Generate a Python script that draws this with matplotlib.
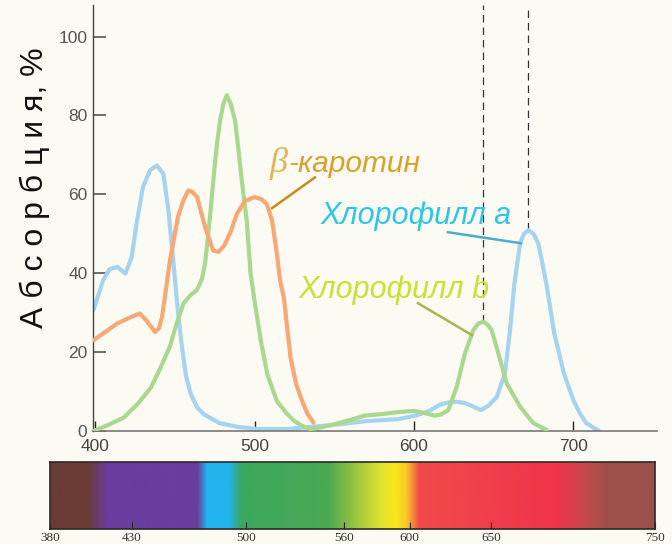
import matplotlib
matplotlib.use("Agg")
import matplotlib.pyplot as plt
import matplotlib.colors as mcolors
import numpy as np

# Chlorophyll a (blue)
chl_a_nm = [399, 405, 409, 414, 419, 423, 426, 430, 434.5, 438.7, 442.8, 446, 449, 452,
            454.5, 457, 460, 464, 468, 478, 490, 502, 520, 540, 555, 570, 590, 602, 610,
            616, 621, 627, 632, 637, 642, 647, 652, 657, 660, 663, 666.5, 669, 671.7, 675,
            678, 683, 688, 694, 700, 704, 708, 716]
chl_a_abs = [30.6, 38.2, 41, 41.6, 39.9, 44.1, 52.6, 61.8, 66.1, 67.3, 65.2, 55.9, 43.3, 30,
             21.3, 14, 9.4, 6, 4.3, 2, 1, 0.5, 0.5, 1.2, 1.8, 2.5, 3, 4, 5.2,
             6.6, 7.2, 7.4, 7.1, 6.2, 5.3, 6.5, 8.7, 14.6, 24.7, 37.4, 47.5, 50, 50.9, 50,
             47.5, 37.4, 24.7, 14.6, 7.8, 4.5, 2, 0]

# beta-carotene (orange)
car_nm = [399, 406, 414, 421, 428, 432, 435, 437.6, 440, 442, 447, 452, 455.5, 458.5, 461,
          464, 469, 474, 477.3, 481, 485, 489, 494, 500, 504, 507.6, 511, 514, 516, 518.4,
          520.5, 522.6, 526, 529, 533, 537]
car_abs = [23, 25, 27.3, 28.6, 29.8, 28.1, 26.5, 25.1, 26, 28.9, 43.3, 54.3, 58.6, 61, 60.6,
           59.3, 51.7, 45.8, 45.4, 47, 50.5, 55.1, 58.3, 59.3, 58.8, 57.6, 53.4, 45, 38.2, 33.8,
           26, 18.6, 12, 8.5, 4.5, 2.1]

# Chlorophyll b (green)
chl_b_nm = [399, 408, 418, 427, 435, 441, 447, 451, 455.4, 460, 463.8, 467, 469, 472, 474.5,
            476.5, 478.4, 480.5, 482.6, 485, 487.8, 490, 492, 495.1, 497.5, 500, 504, 508,
            514, 520, 525, 530, 535, 540, 548, 560, 569, 580, 590, 600, 606, 613, 617,
            621.5, 626.8, 632, 637.2, 640.5, 643.5, 646, 648.7, 652.9, 658.1, 666.5, 674.8,
            683.2]
chl_b_abs = [0, 1.5, 3.4, 7, 11, 16, 21.5, 27, 32.3, 34.5, 35.7, 38.5, 42.5, 54, 65,
             73, 78.7, 83, 85.1, 83, 78.7, 71, 63.5, 53.4, 40, 33, 22.8, 14.4,
             7.6, 4.5, 2.5, 1.3, 0.5, 0.8, 1.5, 2.8, 3.9, 4.3, 4.8, 5.1, 4.6, 3.9, 4.2,
             5.3, 11.2, 19.7, 25.6, 27.3, 27.7, 27, 25.6, 19.7, 12.1, 6.2, 2,
             0.3]

y_ticks = [0, 20, 40, 60, 80, 100]
x_ticks = [400, 500, 600, 700]
spec_ticks = [380, 430, 500, 560, 600, 650, 750]

# colour stops of the visible spectrum strip
spec_stops = [(380, "#6b3b35"), (403, "#6b3b35"), (415, "#6a3d9e"), (470, "#6a3d9e"),
              (476, "#22b4ee"), (489, "#22b4ee"), (497, "#3ca85e"), (550, "#4aa852"),
              (566, "#94c440"), (582, "#e0e232"), (591, "#f8e818"), (598, "#f8c828"),
              (606, "#f04a4a"), (690, "#f0344a"), (708, "#c44a4a"), (722, "#9c5048"),
              (750, "#9c5048")]

BG = "#fbfbf4"
fig = plt.figure(figsize=(6.72, 5.44), dpi=100, facecolor=BG)
W, H = 672, 544


def px_axes(x0, y0, x1, y1):
    return fig.add_axes([x0 / W, 1 - y1 / H, (x1 - x0) / W, (y1 - y0) / H])


ax = px_axes(93, 5, 657, 431)
ax.patch.set_alpha(0)
ax.set_xlim(398.7, 752.4)
ax.set_ylim(0, 108)

lw = 3.0
style = dict(lw=lw, solid_capstyle="round", solid_joinstyle="round")
ax.plot(chl_b_nm, chl_b_abs, color="#abd88f", zorder=3, **style)
ax.plot(chl_a_nm, chl_a_abs, color="#a6d3f0", zorder=2, **style)
ax.plot(car_nm, car_abs, color="#f7a874", zorder=4, **style)

# dashed lines from the red absorption maxima of chlorophylls
for nm, vals in [(chl_b_nm, chl_b_abs), (chl_a_nm, chl_a_abs)]:
    nm_a = np.array(nm)
    v_a = np.array(vals)
    mask = nm_a > 620
    i = np.argmax(v_a[mask])
    ax.plot([nm_a[mask][i]] * 2, [v_a[mask][i], 108], color="#333333", lw=0.9,
            dashes=(6, 4), zorder=1)

for side in ["top", "right"]:
    ax.spines[side].set_visible(False)
ax.spines["left"].set_color("#444444")
ax.spines["bottom"].set_color("#777777")
ax.spines["left"].set_linewidth(1.0)
ax.spines["bottom"].set_linewidth(1.2)

ax.set_yticks(y_ticks)
ax.set_xticks(x_ticks)
ax.tick_params(axis="y", direction="in", length=9, width=1.2, color="#555555",
               labelsize=12.5, labelcolor="#555555", pad=4)
ax.tick_params(axis="x", direction="in", length=7, width=1.0, color="#222222",
               labelsize=12.5, labelcolor="#444444", pad=6)
for lab in ax.get_xticklabels() + ax.get_yticklabels():
    lab.set_family("Liberation Sans")

fig.text(35 / W, 1 - 188 / H, "А б с о р б ц и я, %", rotation=90, ha="center",
         va="center", fontsize=23, family="Liberation Sans", color="#111111")

# labels with leader lines
ax.text(509.5, 65.6, "β", fontsize=26, family="Liberation Serif", style="italic",
        color="#e2b457", va="baseline", ha="left")
ax.text(521.5, 65.6, "-каротин", fontsize=21.5, family="Liberation Sans", style="italic",
        color="#d9a12c", va="baseline", ha="left")
ax.plot([537.9, 511], [64.3, 56.5], color="#c48c1c", lw=1.8, zorder=5)

ax.text(541.5, 54.4, "Хлорофилл a", fontsize=22, family="Liberation Sans",
        style="italic", color="#2fc6e6", va="center", ha="left")
ax.plot([621.3, 667.1], [50.4, 47.6], color="#4aaec6", lw=1.8, zorder=5)

ax.text(527.5, 35.7, "Хлорофилл b", fontsize=22, family="Liberation Sans",
        style="italic", color="#c6e236", va="center", ha="left")
ax.plot([602.5, 636.4], [32.4, 24.3], color="#a6b84c", lw=1.8, zorder=5)

# spectrum strip
sax = px_axes(50, 462, 655, 529)
grid = np.linspace(380, 750, 800)
stop_nm = [s[0] for s in spec_stops]
stop_rgb = np.array([mcolors.to_rgb(s[1]) for s in spec_stops])
rgb = np.stack([np.interp(grid, stop_nm, stop_rgb[:, k]) for k in range(3)], axis=-1)
sax.imshow(rgb[np.newaxis, :, :], aspect="auto", extent=(380, 750, 0, 1))
sax.set_xlim(380, 750)
sax.set_ylim(0, 1)
sax.set_yticks([])
sax.set_xticks(spec_ticks)
sax.tick_params(axis="x", direction="in", length=5, width=0.8, color="#222222",
                labelsize=9.5, labelcolor="#333333", pad=2)
for lab in sax.get_xticklabels():
    lab.set_family("Liberation Serif")
for sp in sax.spines.values():
    sp.set_color("#2a2a2a")
    sp.set_linewidth(1.2)

fig.savefig("out.png", dpi=100, facecolor=BG)
